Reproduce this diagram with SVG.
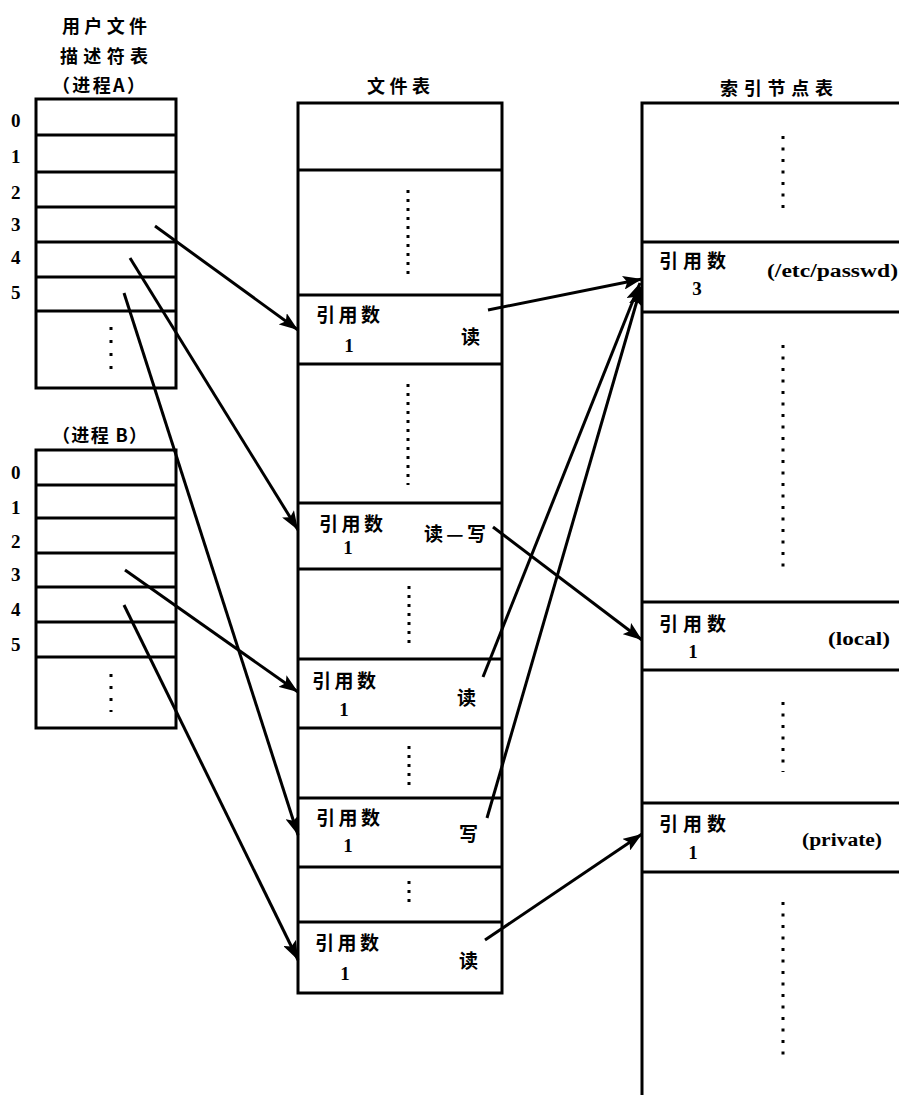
<svg xmlns="http://www.w3.org/2000/svg" width="899" height="1110" viewBox="0 0 899 1110">
<style>
.tbl{fill:none;stroke:#000;stroke-width:3}
.cn{font-family:"Noto Sans CJK SC","Noto Sans",sans-serif;font-weight:bold;font-size:19px;fill:#000}
.hd{font-family:"Noto Sans CJK SC","Noto Sans",sans-serif;font-weight:bold;font-size:18px;fill:#000}
.num{font-family:"Liberation Serif",serif;font-weight:bold;font-size:19px;fill:#000}
.lbl{font-family:"Liberation Serif",serif;font-weight:bold;font-size:18px;fill:#000}
.dots{stroke:#000;stroke-width:3;stroke-dasharray:3 6;fill:none}
.dots2{stroke:#000;stroke-width:3;stroke-dasharray:3 8.5;fill:none}
.conn{stroke:#000;stroke-width:3;fill:none;marker-end:url(#ah)}
</style>
<defs>
<marker id="ah" markerUnits="userSpaceOnUse" markerWidth="20" markerHeight="14" refX="19" refY="7" orient="auto">
<path d="M0,0 L19,7 L0,14 L4,7 z" fill="#000"/>
</marker>
</defs>
<rect width="899" height="1110" fill="#fff"/>

<g id="procA">
<text class="hd" x="62" y="33" textLength="85">用户文件</text>
<text class="hd" x="60" y="63" textLength="88">描述符表</text>
<text class="hd" x="52" y="92" textLength="93">（进程A）</text>
<rect class="tbl" x="36" y="99" width="140" height="289"/>
<path class="tbl" d="M36,135H176M36,172H176M36,207H176M36,242H176M36,277H176M36,311H176"/>
<line class="dots" x1="111" y1="327" x2="111" y2="374" style="stroke-dasharray:3 10"/>
<text class="num" x="11" y="127">0</text>
<text class="num" x="11" y="163">1</text>
<text class="num" x="11" y="199">2</text>
<text class="num" x="11" y="231">3</text>
<text class="num" x="11" y="264">4</text>
<text class="num" x="11" y="299">5</text>
</g>

<g id="procB">
<text class="hd" x="52" y="442" textLength="95">（进程 B）</text>
<rect class="tbl" x="36" y="450" width="140" height="278"/>
<path class="tbl" d="M36,485H176M36,518H176M36,553H176M36,587H176M36,622H176M36,657H176"/>
<line class="dots" x1="111" y1="674" x2="111" y2="712" style="stroke-dasharray:3 9"/>
<text class="num" x="11" y="479">0</text>
<text class="num" x="11" y="514">1</text>
<text class="num" x="11" y="548">2</text>
<text class="num" x="11" y="581">3</text>
<text class="num" x="11" y="616">4</text>
<text class="num" x="11" y="651">5</text>
</g>

<g id="filetable">
<text class="hd" x="367" y="93" textLength="63">文件表</text>
<rect class="tbl" x="298" y="103" width="204" height="890"/>
<path class="tbl" d="M298,170H502M298,295H502M298,364H502M298,503H502M298,569H502M298,659H502M298,728H502M298,798H502M298,867H502M298,922H502"/>
<line class="dots" x1="408" y1="190" x2="408" y2="280"/>
<line class="dots" x1="408" y1="384" x2="408" y2="485"/>
<line class="dots" x1="409" y1="586" x2="409" y2="645"/>
<line class="dots" x1="409" y1="746" x2="409" y2="785"/>
<line class="dots" x1="409" y1="881" x2="409" y2="908"/>
</g>

<g id="f1">
<text class="cn" x="316" y="322" textLength="64">引用数</text>
<text class="num" x="349" y="352" text-anchor="middle">1</text>
<text class="cn" x="461" y="344">读</text>
</g>
<g id="f2">
<text class="cn" x="319" y="531" textLength="64">引用数</text>
<text class="num" x="348" y="554" text-anchor="middle">1</text>
<text class="cn" x="424" y="541" textLength="62">读—写</text>
</g>
<g id="f3">
<text class="cn" x="312" y="688" textLength="64">引用数</text>
<text class="num" x="344" y="716" text-anchor="middle">1</text>
<text class="cn" x="457" y="705">读</text>
</g>
<g id="f4">
<text class="cn" x="316" y="825" textLength="64">引用数</text>
<text class="num" x="348" y="852" text-anchor="middle">1</text>
<text class="cn" x="459" y="841">写</text>
</g>
<g id="f5">
<text class="cn" x="315" y="950" textLength="64">引用数</text>
<text class="num" x="345" y="980" text-anchor="middle">1</text>
<text class="cn" x="459" y="968">读</text>
</g>

<g id="inodetable">
<text class="hd" x="720" y="95" textLength="113">索引节点表</text>
<path class="tbl" d="M899,103H642V1095"/>
<path class="tbl" d="M642,242H899M642,312H899M642,602H899M642,670H899M642,803H899M642,872H899"/>
<line class="dots2" x1="783" y1="136" x2="783" y2="210"/>
<line class="dots2" x1="783" y1="345" x2="783" y2="570"/>
<line class="dots2" x1="783" y1="702" x2="783" y2="772"/>
<line class="dots2" x1="783" y1="902" x2="783" y2="1058"/>
</g>
<g id="i1">
<text class="cn" x="659" y="268" textLength="67">引用数</text>
<text class="num" x="697" y="295" text-anchor="middle">3</text>
<text class="lbl" x="767" y="277" textLength="131" lengthAdjust="spacingAndGlyphs">(/etc/passwd)</text>
</g>
<g id="i2">
<text class="cn" x="659" y="631" textLength="67">引用数</text>
<text class="num" x="693" y="658" text-anchor="middle">1</text>
<text class="lbl" x="828" y="645" textLength="62" lengthAdjust="spacingAndGlyphs">(local)</text>
</g>
<g id="i3">
<text class="cn" x="659" y="831" textLength="67">引用数</text>
<text class="num" x="693" y="859" text-anchor="middle">1</text>
<text class="lbl" x="802" y="846" textLength="80" lengthAdjust="spacingAndGlyphs">(private)</text>
</g>

<g id="connectors">
<line class="conn" x1="155" y1="226" x2="298" y2="330"/>
<line class="conn" x1="130" y1="258" x2="298" y2="530"/>
<line class="conn" x1="124" y1="293" x2="298" y2="835"/>
<line class="conn" x1="125" y1="570" x2="298" y2="692"/>
<line class="conn" x1="124" y1="605" x2="298" y2="960"/>
<line class="conn" x1="488" y1="310" x2="642" y2="279"/>
<line class="conn" x1="493" y1="527" x2="642" y2="640"/>
<line class="conn" x1="483" y1="677" x2="640" y2="283"/>
<line class="conn" x1="487" y1="818" x2="641" y2="287"/>
<line class="conn" x1="485" y1="940" x2="642" y2="834"/>
</g>
</svg>
